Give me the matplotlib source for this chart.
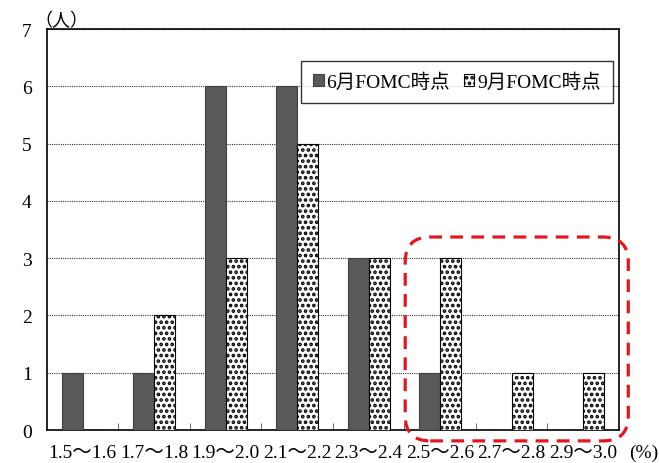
import numpy as np
import matplotlib.pyplot as plt
from matplotlib.patches import FancyBboxPatch

plt.rcParams['font.family'] = ['Liberation Serif', 'Noto Sans CJK JP']
plt.rcParams['hatch.linewidth'] = 1.8

categories = ['1.5～1.6', '1.7～1.8', '1.9～2.0', '2.1～2.2',
              '2.3～2.4', '2.5～2.6', '2.7～2.8', '2.9～3.0']
june = [1, 1, 6, 6, 3, 1, 0, 0]
sept = [0, 2, 3, 5, 3, 3, 1, 1]
series_names = ['6月FOMC時点', '9月FOMC時点']

fig = plt.figure(figsize=(6.59, 4.64), dpi=100)
ax = fig.add_axes([0.0713, 0.0711, 0.868, 0.864])

x = np.arange(len(categories))
w = 0.294
ax.bar(x - w / 2, june, w, color='#595959', edgecolor='#404040', linewidth=0.8,
       label=series_names[0], zorder=3)
ax.bar(x + w / 2, sept, w, color='white', edgecolor='black', hatch='...',
       linewidth=0.8, label=series_names[1], zorder=3)

ax.set_xlim(-0.5, len(categories) - 0.5)
ax.set_ylim(0, 7)
ax.set_yticks(range(0, 8))
ax.yaxis.grid(True, linestyle=(0, (1, 1)), color='#333333', linewidth=0.8, zorder=0)
ax.tick_params(axis='y', length=0, labelsize=14, pad=11)

ax.set_xticks(x)
ax.set_xticklabels(categories, fontsize=14)
ax.tick_params(axis='x', length=0, pad=10)
ax.set_xticks(np.arange(0.5, len(categories) - 1, 1), minor=True)
ax.tick_params(axis='x', which='minor', direction='in', length=5, color='#555555')

for s in ax.spines.values():
    s.set_linewidth(1.2)

ax.text(0.025, 1.0, '（人）', transform=ax.transAxes, fontsize=13,
        ha='center', va='bottom')
ax.text(1.0175, -0.035, '(%)', transform=ax.transAxes, fontsize=14,
        ha='left', va='top')

leg = ax.legend(loc='upper right', bbox_to_anchor=(0.989, 0.921), ncol=2,
                fontsize=14, frameon=True, fancybox=False, handlelength=0.55,
                handleheight=0.55, handletextpad=0.15, columnspacing=0.7,
                borderpad=0.6, borderaxespad=0)
leg.get_frame().set_edgecolor('black')
leg.get_frame().set_linewidth(1.0)

# dashed highlight around the upper range
box = FancyBboxPatch((4.51, -0.19), 3.12, 3.56,
                     boxstyle='round,pad=0,rounding_size=0.35',
                     mutation_aspect=1.25, fill=False, edgecolor='#e8141c',
                     linewidth=2.3, linestyle=(0, (4, 2.6)), clip_on=False,
                     zorder=5)
ax.add_patch(box)

fig.savefig('out.png', dpi=100)
